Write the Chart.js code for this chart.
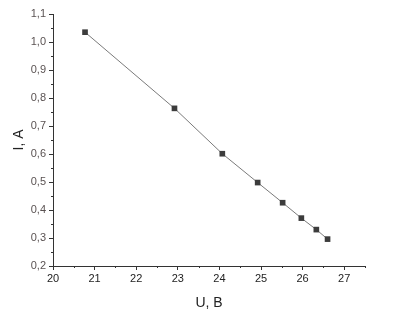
<!DOCTYPE html>
<html>
<head>
<meta charset="utf-8">
<script src="https://cdn.jsdelivr.net/npm/chart.js@4/dist/chart.umd.min.js"></script>
<style>
  html, body { margin: 0; padding: 0; background: #fff; }
  #wrap { width: 405px; height: 312px; }
</style>
</head>
<body>
<div id="wrap"><canvas id="chart" width="405" height="312"></canvas></div>
<script>
// measured voltage U (B) and current I (A)
var voltage = [20.77, 22.92, 24.07, 24.92, 25.52, 25.97, 26.33, 26.60];
var current = [1.035, 0.763, 0.601, 0.498, 0.426, 0.371, 0.330, 0.296];
var xTitle = "U, B";
var yTitle = "I, A";

var points = voltage.map(function (u, i) { return { x: u, y: current[i] }; });

function comma(v, digits) {
  return v.toFixed(digits).replace(".", ",");
}

// short minor ticks between the labelled ones
var minorTicks = {
  id: "minorTicks",
  afterDraw: function (chart) {
    var c = chart.ctx;
    var xs = chart.scales.x, ys = chart.scales.y;
    c.save();
    c.strokeStyle = "#333";
    c.lineWidth = 1;
    c.beginPath();
    for (var u = 20.5; u < 27.6; u += 1) {
      var px = Math.round(xs.getPixelForValue(u)) + 0.5;
      c.moveTo(px, ys.bottom);
      c.lineTo(px, ys.bottom + 2);
    }
    for (var v = 0.25; v < 1.11; v += 0.1) {
      var py = Math.round(ys.getPixelForValue(v)) + 0.5;
      c.moveTo(xs.left, py);
      c.lineTo(xs.left - 2, py);
    }
    c.stroke();
    c.restore();
  }
};

new Chart(document.getElementById("chart"), {
  type: "scatter",
  data: {
    datasets: [{
      data: points,
      showLine: true,
      borderColor: "#7a7a7a",
      borderWidth: 1,
      pointStyle: "rect",
      pointRadius: 4,
      pointBackgroundColor: "#3c3c3c",
      pointBorderColor: "#3c3c3c",
      pointBorderWidth: 0
    }]
  },
  options: {
    responsive: false,
    animation: false,
    layout: { padding: { top: 14, right: 40, left: 0, bottom: 0 } },
    plugins: {
      legend: { display: false },
      tooltip: { enabled: false }
    },
    scales: {
      x: {
        type: "linear",
        min: 20,
        max: 27.5,
        afterBuildTicks: function (s) {
          s.ticks = [20, 21, 22, 23, 24, 25, 26, 27].map(function (v) { return { value: v }; });
        },
        afterFit: function (s) { s.height = 46; },
        grid: { drawOnChartArea: false, drawTicks: true, tickLength: 4, color: "#333" },
        border: { color: "#333", width: 1 },
        ticks: {
          color: "#222",
          font: { family: "Liberation Sans", size: 11 },
          padding: 2,
          maxRotation: 0,
          callback: function (v) { return String(v); }
        },
        title: {
          display: true,
          text: xTitle,
          color: "#222",
          font: { family: "Liberation Sans", size: 14 },
          padding: { top: 2, bottom: 0 }
        }
      },
      y: {
        type: "linear",
        min: 0.2,
        max: 1.1,
        afterBuildTicks: function (s) {
          var t = [];
          for (var i = 2; i <= 11; i++) t.push({ value: i / 10 });
          s.ticks = t;
        },
        afterFit: function (s) { s.width = 53; },
        grid: { drawOnChartArea: false, drawTicks: true, tickLength: 4, color: "#333" },
        border: { color: "#333", width: 1 },
        ticks: {
          color: "#5a5252",
          font: { family: "Liberation Sans", size: 11 },
          padding: 3,
          callback: function (v) { return comma(v, 1); }
        },
        title: {
          display: true,
          text: yTitle,
          color: "#222",
          font: { family: "Liberation Sans", size: 14 },
          padding: { top: 11, bottom: 0 }
        }
      }
    }
  },
  plugins: [minorTicks]
});
</script>
</body>
</html>
